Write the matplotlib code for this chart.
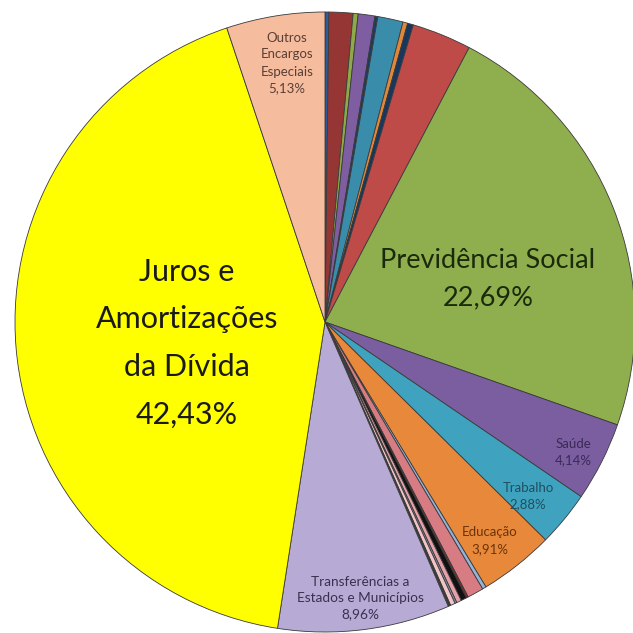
import matplotlib.pyplot as plt

# slice values (%), clockwise from 12 o'clock
values = [0.20, 1.25, 0.26, 0.87, 0.15, 1.32, 0.25, 0.30, 3.10,
          22.69, 4.14, 2.88, 3.91,
          0.20, 0.85, 0.10, 0.30, 0.25, 0.10, 0.25, 0.13,
          8.96, 42.43, 5.13]
colors = ['#2E5C9A', '#963634', '#8FA848', '#7E5EA0', '#1F3A60', '#3A8DAA', '#E0873A', '#17375E', '#BE4B48',
          '#8FAE4E', '#7B5EA0', '#3FA3C0', '#E8883A',
          '#95B3D7', '#D67C82', '#7A2E2E', '#111111', '#E6A0A8', '#8C8CA8', '#F2C4C8', '#3A3A3A',
          '#B7AAD4', '#FFFF00', '#F6BC9E']

# labels: text, pixel position, font size, colour, line spacing
labels = [
    ('Juros e\nAmortizações\nda Dívida\n42,43%', (187, 343), 22, '#1a1a1a', 1.85),
    ('Previdência Social\n22,69%', (488, 279), 19.5, '#1a2a0a', 1.65),
    ('Outros\nEncargos\nEspeciais\n5,13%', (287, 63), 9.5, '#5a3f35', 1.5),
    ('Saúde\n4,14%', (573, 452), 9.5, '#3a2a55', 1.5),
    ('Trabalho\n2,88%', (528, 496), 9.5, '#1e4f60', 1.5),
    ('Educação\n3,91%', (490, 541), 9.5, '#6a3408', 1.5),
    ('Transferências a\nEstados e Municípios\n8,96%', (360, 598), 9.8, '#3a3050', 1.45),
]

W = 633
cx, cy, r = 325, 322, 310

fig = plt.figure(figsize=(W / 100, W / 100), dpi=100)
ax = fig.add_axes([0, 0, 1, 1])
ax.pie(values, colors=colors, startangle=90, counterclock=False, radius=1,
       wedgeprops={'edgecolor': '#3a3a3a', 'linewidth': 0.6})
ax.set_xlim(-cx / r, (W - cx) / r)
ax.set_ylim(-(W - cy) / r, cy / r)
ax.set_aspect('equal')
ax.axis('off')

for text, (px, py), size, col, ls in labels:
    ax.text((px - cx) / r, (cy - py) / r, text, ha='center', va='center',
            fontsize=size, color=col, family='Lato', linespacing=ls)

fig.savefig('out.png', dpi=100, facecolor='white')
